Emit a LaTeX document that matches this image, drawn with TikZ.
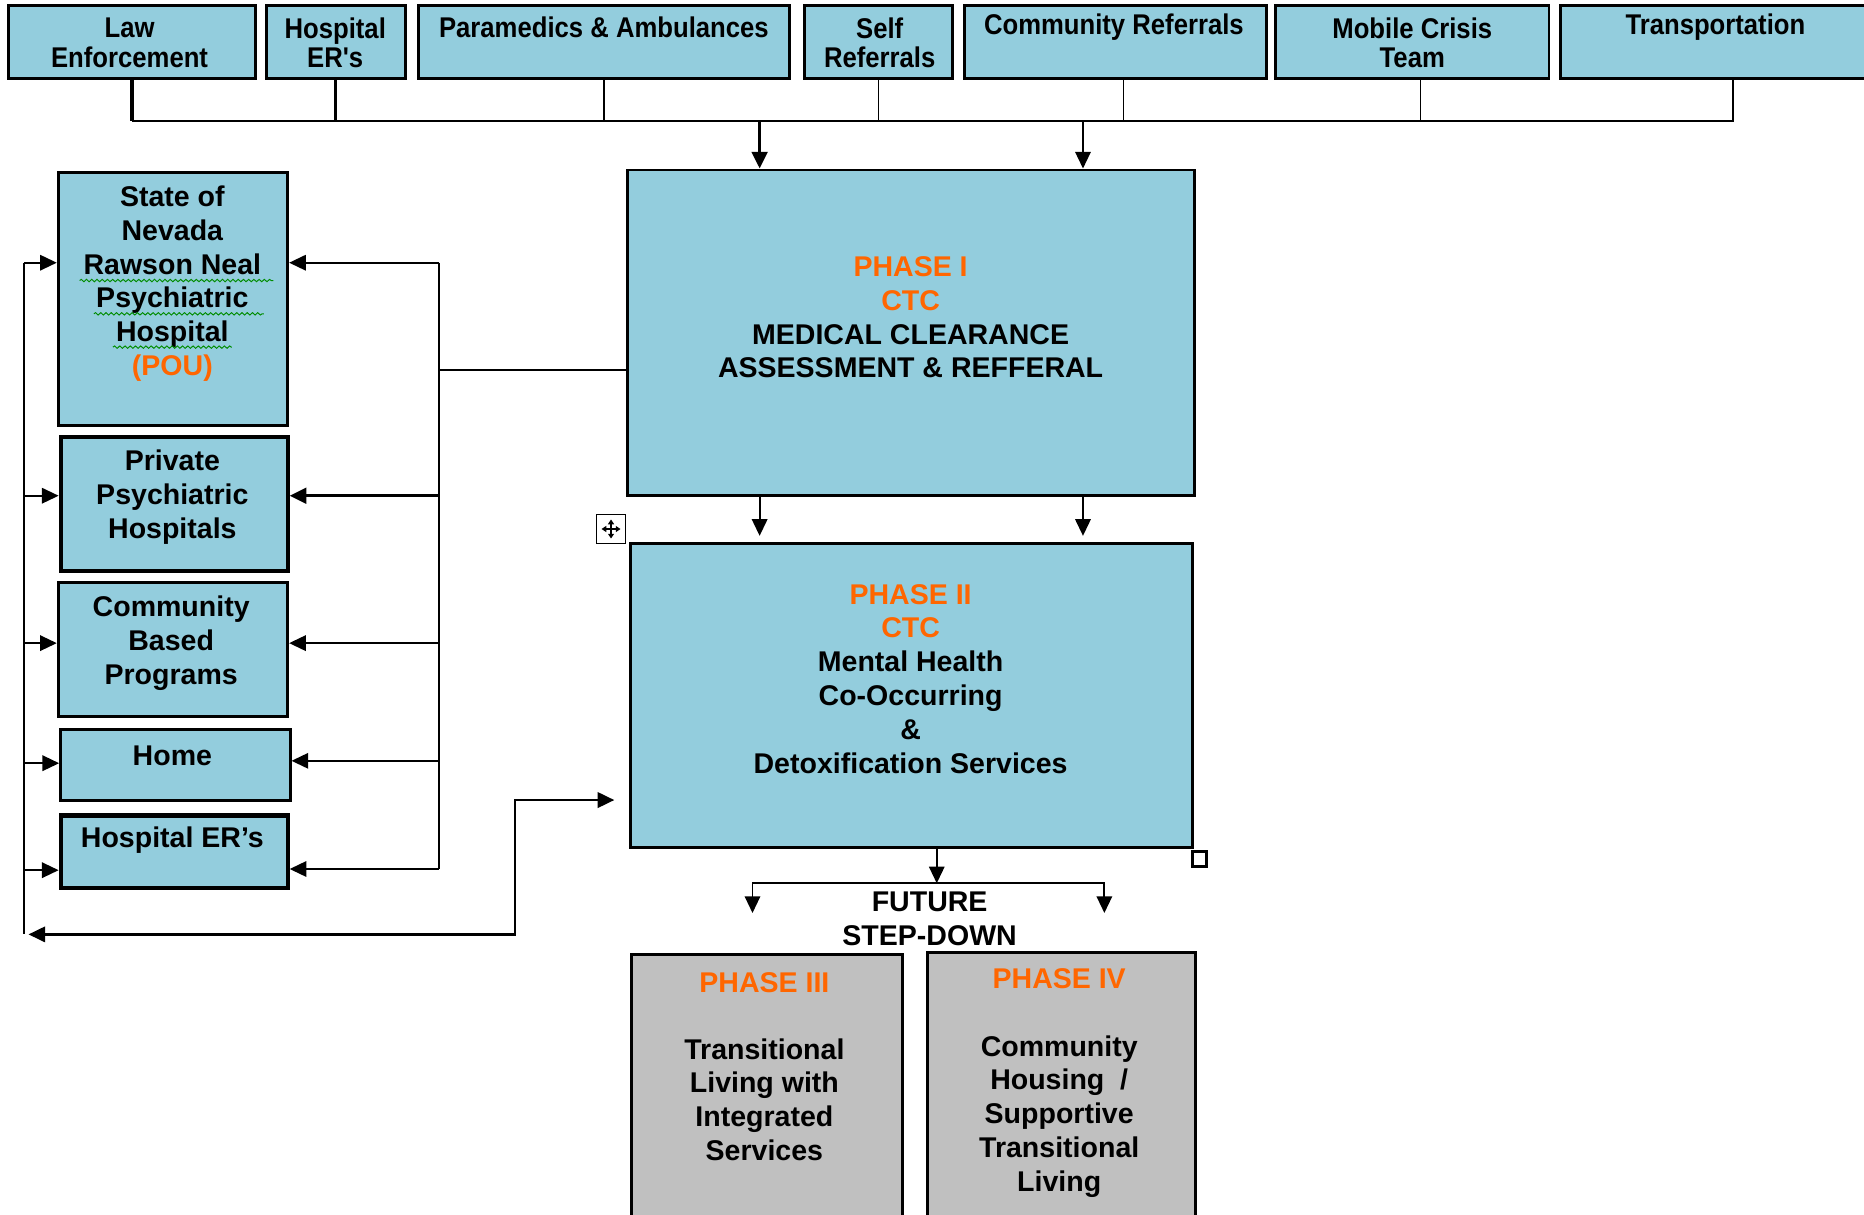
\documentclass[tikz,border=0pt]{standalone}
\usepackage{fontspec}
\setmainfont{Liberation Sans}
\newfontfamily\narrowsans[FakeStretch=0.9]{Liberation Sans}
\usetikzlibrary{arrows.meta,fit,decorations.pathmorphing}
\definecolor{ctcblue}{HTML}{93CDDD}
\definecolor{ctcgray}{HTML}{C0C0C0}
\definecolor{ctcorange}{HTML}{FF6600}
\tikzset{
  ctcbox/.style={draw=black, line width=1.25pt, fill=ctcblue, inner sep=0pt},
  stepbox/.style={ctcbox, fill=ctcgray},
  lbl/.style={font=\bfseries\fontsize{12}{14.2}\selectfont, align=center, inner sep=0pt},
  toplbl/.style={font=\narrowsans\bfseries\fontsize{12}{12.5}\selectfont, align=center, inner sep=0pt},
  wire/.style={line width=0.75pt},
  heavy/.style={line width=1.4pt},
  arr/.style={wire, -{Triangle[length=7pt,width=6.5pt]}},
  squiggle/.style={decorate, decoration={snake, amplitude=0.5pt, segment length=2.2pt},
    draw=green!55!black, line width=0.4pt}
}

\begin{document}
\begin{tikzpicture}[x=0.5pt,y=-0.5pt]
\clip (0,0) rectangle (1568,1022);

% referral sources
\node[ctcbox, fit={(7,5) (215,66)}] (law) {};
\node[ctcbox, fit={(224,5) (341,66)}] (hosp) {};
\node[ctcbox, fit={(352,5) (664,66)}] (para) {};
\node[ctcbox, fit={(677,5) (801,66)}] (selfref) {};
\node[ctcbox, fit={(811,5) (1065,66)}] (commref) {};
\node[ctcbox, fit={(1073,5) (1303,66)}] (mobile) {};
\node[ctcbox, fit={(1313,5) (1603,66)}] (transp) {};
\node[toplbl] (lawt) at (109,36) {Law\\Enforcement};
\node[toplbl] (hospt) at (282,36) {Hospital\\ER's};
\node[toplbl] (parat) at (508,23) {Paramedics \& Ambulances};
\node[toplbl] (selft) at (740,36) {Self\\Referrals};
\node[toplbl] (commt) at (937,23) {Community Referrals};
\node[toplbl] (mobt) at (1188,36) {Mobile Crisis\\Team};
\node[toplbl] (transt) at (1443,23) {Transportation};

% phases
\node[ctcbox, fit={(528,143) (1005,417)}] (ph1) {};
\node[lbl] (ph1t) at (766,267) {\textcolor{ctcorange}{PHASE I}\\\textcolor{ctcorange}{CTC}\\
  MEDICAL CLEARANCE\\ASSESSMENT \& REFFERAL};
\node[ctcbox, fit={(530,457) (1003,713)}] (ph2) {};
\node[lbl] (ph2t) at (766,571) {\textcolor{ctcorange}{PHASE II}\\\textcolor{ctcorange}{CTC}\\
  Mental Health\\Co-Occurring\\\&\\Detoxification Services};
\node[stepbox, fit={(531,803) (759,1040)}] (ph3) {};
\node[lbl] (ph3h) at (643,827) {\textcolor{ctcorange}{PHASE III}};
\node[lbl] (ph3t) at (643,925) {Transitional\\Living with\\Integrated\\Services};
\node[stepbox, fit={(780,801) (1006,1040)}] (ph4) {};
\node[lbl] (ph4h) at (891,823) {\textcolor{ctcorange}{PHASE IV}};
\node[lbl] (ph4t) at (891,939) {Community\\Housing \ /\\Supportive\\Transitional\\Living};
\node[lbl] (future) at (782,773) {FUTURE\\STEP-DOWN};

% placements
\node[ctcbox, fit={(49,145) (242,358)}] (nev) {};
\node[lbl] (nevt) at (145,238.5) {State of\\Nevada\\Rawson Neal\\Psychiatric\\Hospital\\
  \textcolor{ctcorange}{(POU)}};
\node[ctcbox, line width=1.7pt, fit={(51,368) (242,480)}] (priv) {};
\node[lbl] (privt) at (145,418) {Private\\Psychiatric\\Hospitals};
\node[ctcbox, fit={(49,490) (242,603)}] (cbp) {};
\node[lbl] (cbpt) at (144,541) {Community\\Based\\Programs};
\node[ctcbox, fit={(51,614) (244,673)}] (home) {};
\node[lbl] (homet) at (145,636) {Home};
\node[ctcbox, line width=1.7pt, fit={(51,686) (242,747)}] (her) {};
\node[lbl] (hert) at (145,707) {Hospital ER’s};
\draw[squiggle] (67,236) -- (230,236);
\draw[squiggle] (79,264) -- (222,264);
\draw[squiggle] (95,292) -- (195,292);

% top bus
\coordinate (tbus) at (0,102);
\draw[heavy] (law.south) -- (law.south |- tbus);
\draw[heavy] (hosp.south) -- (hosp.south |- tbus);
\draw[wire] (law.south |- tbus) -- (transp.south |- tbus) -- (transp.south);
\foreach \src in {para,selfref}
  \draw[wire] (\src.south) -- (\src.south |- tbus);
\foreach \src in {commref,mobile}
  \draw[wire] ([xshift=3.5pt]\src.south) -- ([xshift=3.5pt]\src.south |- tbus);
\coordinate (inA) at (639,0);
\coordinate (inB) at (911,0);
\draw[arr,heavy] (inA |- tbus) -- (inA |- ph1.north);
\draw[arr] (inB |- tbus) -- (inB |- ph1.north);
\draw[arr, shorten >=2.5pt] (inA |- ph1.south) -- (inA |- ph2.north);
\draw[arr, shorten >=2.5pt] (inB |- ph1.south) -- (inB |- ph2.north);

% out to placements
\coordinate (rj) at (369,311);
\draw[wire] (ph1.west |- rj) -- (rj);
\draw[wire] (369,221) -- (369,731);
\foreach \dst/\yy in {nev/221, cbp/541, home/640, her/731}
  \draw[arr] (369,\yy) -- (\dst.east |- 369,\yy);
\draw[arr,heavy] (369,417) -- (priv.east |- 369,417);
\draw[wire] (20,221) -- (20,786);
\foreach \dst/\yy in {nev/221, priv/417, cbp/541, home/642, her/732}
  \draw[arr] (20,\yy) -- (\dst.west |- 20,\yy);
\draw[wire, line width=1pt, {Triangle[length=7pt,width=6.5pt]}-{Triangle[length=7pt,width=6.5pt]},
  shorten >=6pt, shorten <=2pt] (20,786) -- (433,786) -- (433,673) -- (ph2.west |- 433,673);

% step-down
\coordinate (fj) at (788,743);
\coordinate (f3) at (633,768);
\coordinate (f4) at (929,768);
\draw[arr] (ph2.south -| fj) -- (fj);
\draw[arr] (fj) -| (f3);
\draw[arr] (fj) -| (f4);

% editor handles
\draw[line width=0.6pt, fill=white] (502,433) rectangle (526,457);
\draw[line width=0.8pt, {Triangle[length=2pt,width=2.5pt]}-{Triangle[length=2pt,width=2.5pt]}]
  (514,437) -- (514,453);
\draw[line width=0.8pt, {Triangle[length=2pt,width=2.5pt]}-{Triangle[length=2pt,width=2.5pt]}]
  (506,445) -- (522,445);
\draw[line width=1.2pt, fill=white] (1003,716) rectangle (1015,729);
\end{tikzpicture}
\end{document}
